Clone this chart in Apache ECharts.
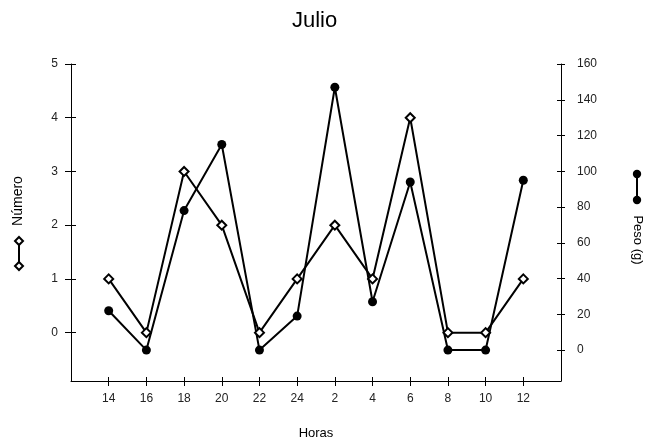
<!DOCTYPE html>
<html>
<head>
<meta charset="utf-8">
<script src="https://cdn.jsdelivr.net/npm/echarts@6/dist/echarts.min.js"></script>
<style>html,body{margin:0;padding:0;background:#fff}#c{width:646px;height:445px}</style>
</head>
<body>
<div id="c"></div>
<script>
const hours = ['14','16','18','20','22','24','2','4','6','8','10','12'];
const numero = [1,0,3,2,0,1,2,1,4,0,0,1];
const peso = [22,0,78,115,0,19,147,27,94,0,0,95];
const leftTicks = [0,1,2,3,4,5];
const rightTicks = [0,20,40,60,80,100,120,140,160];
const hourIdx = hours.map((h,i)=>i);

const FONT = 'Liberation Sans, Arial, sans-serif';
const chart = echarts.init(document.getElementById('c'));

function diamond(cx, cy, r){
  return {type:'polygon', shape:{points:[[cx,cy-r],[cx+r,cy],[cx,cy+r],[cx-r,cy]]},
    style:{fill:'#fff', stroke:'#000', lineWidth:2}, z:10};
}

const lineStyleAx = {color:'#000', width:1};
const lblStyle = {color:'#222', fontFamily: FONT, fontSize: 12};

chart.setOption({
  animation:false,
  backgroundColor:'#fff',
  title:{text:'Julio', left:292, top:10, padding:0, textStyle:{fontFamily:FONT, fontSize:22, fontWeight:'normal', color:'#000'}},
  grid:{left:71, right:85, top:64, bottom:63},
  xAxis:[
    {type:'value', min:-1, max:12, position:'bottom',
     axisLine:{show:true, onZero:false, lineStyle:lineStyleAx},
     axisTick:{show:true, length:5, inside:false, customValues:hourIdx, lineStyle:lineStyleAx},
     axisLabel:{show:true, margin:12, customValues:hourIdx, formatter:v=>hours[v], ...lblStyle},
     splitLine:{show:false},
     name:'Horas', nameLocation:'middle', nameGap:46, nameTextStyle:{fontFamily:FONT, fontSize:13, color:'#000'}},
    {type:'value', min:-1, max:12, position:'bottom',
     axisLine:{show:false, onZero:false},
     axisTick:{show:true, length:4, inside:true, customValues:hourIdx, lineStyle:lineStyleAx},
     axisLabel:{show:false},
     splitLine:{show:false}}
  ],
  yAxis:[
    {type:'value', min:-0.9, max:5, position:'left',
     axisLine:{show:true, onZero:false, lineStyle:lineStyleAx},
     axisTick:{show:true, length:6, inside:false, customValues:leftTicks, lineStyle:lineStyleAx},
     axisLabel:{show:true, margin:13, customValues:leftTicks, ...lblStyle},
     splitLine:{show:false}},
    {type:'value', min:-17.3, max:160, position:'right',
     axisLine:{show:true, onZero:false, lineStyle:lineStyleAx},
     axisTick:{show:true, length:4, inside:false, customValues:rightTicks, lineStyle:lineStyleAx},
     axisLabel:{show:true, margin:16, customValues:rightTicks, ...lblStyle},
     splitLine:{show:false}},
    {type:'value', min:-0.9, max:5, position:'left',
     axisLine:{show:false, onZero:false},
     axisTick:{show:true, length:5, inside:true, customValues:leftTicks, lineStyle:lineStyleAx},
     axisLabel:{show:false}, splitLine:{show:false}},
    {type:'value', min:-17.3, max:160, position:'right',
     axisLine:{show:false, onZero:false},
     axisTick:{show:true, length:4, inside:true, customValues:rightTicks, lineStyle:lineStyleAx},
     axisLabel:{show:false}, splitLine:{show:false}}
  ],
  series:[
    {name:'Peso (g)', type:'line', xAxisIndex:0, yAxisIndex:1,
     data: peso.map((v,i)=>[i,v]),
     symbol:'circle', symbolSize:9, showAllSymbol:true,
     lineStyle:{color:'#000', width:2}, itemStyle:{color:'#000', borderColor:'#000', borderWidth:0}, z:3},
    {name:'Número', type:'line', xAxisIndex:0, yAxisIndex:0,
     data: numero.map((v,i)=>[i,v]),
     symbol:'diamond', symbolSize:9, showAllSymbol:true,
     lineStyle:{color:'#000', width:2}, itemStyle:{color:'#fff', borderColor:'#000', borderWidth:2}, z:4}
  ],
  graphic:[
    {type:'text', x:18, y:201, rotation:Math.PI/2,
     style:{text:'Número', fontFamily:FONT, fontSize:14, fill:'#000', align:'center', verticalAlign:'middle'}},
    {type:'line', shape:{x1:19, y1:241, x2:19, y2:266}, style:{stroke:'#000', lineWidth:2}},
    diamond(19,241,4), diamond(19,266,4),
    {type:'text', x:638, y:240, rotation:-Math.PI/2,
     style:{text:'Peso (g)', fontFamily:FONT, fontSize:13, fill:'#000', align:'center', verticalAlign:'middle'}},
    {type:'line', shape:{x1:637, y1:174, x2:637, y2:200}, style:{stroke:'#000', lineWidth:2}},
    {type:'circle', shape:{cx:637, cy:174, r:4.2}, style:{fill:'#000'}},
    {type:'circle', shape:{cx:637, cy:200, r:4.2}, style:{fill:'#000'}}
  ]
});
</script>
</body>
</html>
